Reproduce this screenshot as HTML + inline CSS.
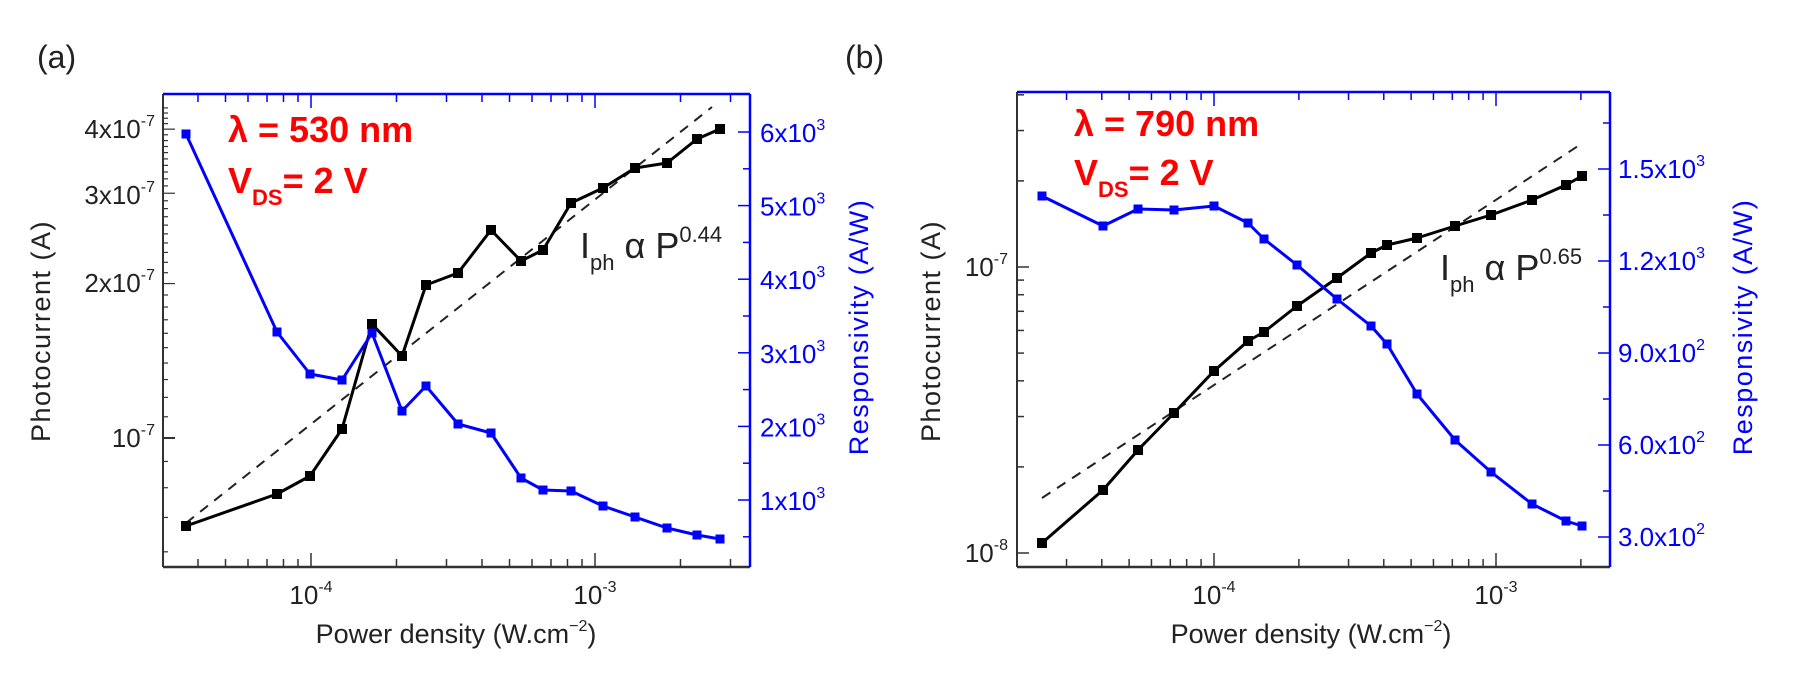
<!DOCTYPE html>
<html><head><meta charset="utf-8"><style>
html,body{margin:0;padding:0;background:#fff;}
svg{display:block;font-family:"Liberation Sans",Arial,sans-serif;}
</style></head><body>
<svg id="s" width="1795" height="675" viewBox="0 0 1795 675" xmlns="http://www.w3.org/2000/svg"></svg>
<script>
const S=document.getElementById('s');let h='';
function L(x1,y1,x2,y2,c,w,d){h+=`<line x1="${x1}" y1="${y1}" x2="${x2}" y2="${y2}" stroke="${c}" stroke-width="${w}"${d?` stroke-dasharray="${d}"`:''}/>`;}
function T(x,y,t,o){h+=`<text x="${x}" y="${y}" ${o||''}>${t}</text>`;}
function poly(pts,c,w,m){h+=`<polyline points="${pts.map(p=>p.join(',')).join(' ')}" fill="none" stroke="${c}" stroke-width="${w}" stroke-linejoin="round"/>`;pts.forEach(p=>{h+=`<rect x="${p[0]-m/2}" y="${p[1]-m/2}" width="${m}" height="${m}" fill="${c}"/>`;});}
const G='#333',B='#0000ff';
function panel(P){
 const {l,r,t,b,x4,dec}=P;
 // frame
 L(l,t,l,b,G,2);L(l,b,r,b,G,2.5);L(l,t,r,t,B,2.5);L(r,t,r,b,B,2.5);
 // x ticks
 for(let e=-5;e<=-2;e++)for(let k=1;k<10;k++){const x=x4+(e+4+Math.log10(k))*dec;if(x<=l+2||x>=r-2)continue;const len=k==1?14:8;L(x,b,x,b-len,G,1.5);L(x,t,x,t+len,B,1.5);}
 h+=P.extra;
}
// Panel a
panel({l:163,r:750,t:94,b:567,x4:311,dec:284,extra:''});
// left ticks a: 1e-7 at 438, decade 513
for(let v=0.6;v<=4.45;v+=0.1){const y=438-Math.log10(v)*513;if(y<96||y>565)continue;const maj=Math.abs(v-Math.round(v))<0.01;L(163,y,163+(maj?12:5),y,G,1.2);}
// right ticks a
for(let i=0;i<12;i++){const y=132+i*36.8;L(750,y,750-(i%2==0?12:7),y,B,1.5);}
L(163,438,175,438,G,2);
// Panel b
panel({l:1017,r:1610,t:92,b:567,x4:1214,dec:282,extra:''});
for(let e=-8;e<=-7;e++)for(let k=1;k<10;k++){const y=267-(e+7+Math.log10(k))*286;if(y<94||y>565)continue;L(1017,y,1017+(k==1?12:7),y,G,1.5);}
for(let i=0;i<11;i++){const y=537-i*46;if(y<94)continue;L(1610,y,1610-(i%2==0?12:7),y,B,1.5);}
// data a
L(186,523,712,107,'#222',2,'10 8');
poly([[186,526],[277,494],[310,476],[342,429],[372,324],[402,356],[426,285],[458,273],[491,230],[521,261],[543,250],[571,203],[603,188],[635,168],[667,163],[697,139],[720,129]],'#000',3,10);
poly([[186,134],[277,332],[310,374],[342,380],[372,333],[402,411],[426,386],[458,424],[491,433],[521,478],[543,490],[571,491],[603,506],[635,517],[667,528],[697,535],[720,539]],B,3,9);
// data b
L(1042,498,1578,146,'#222',2,'10 8');
poly([[1042,543],[1103,490],[1138,450],[1174,413],[1214,371],[1248,341],[1264,332],[1297,306],[1337,278],[1371,253],[1387,245],[1417,238],[1455,226],[1491,215],[1532,200],[1566,185],[1582,176]],'#000',3,10);
poly([[1042,196],[1103,226],[1138,209],[1174,210],[1214,206],[1248,223],[1264,239],[1297,265],[1337,299],[1371,326],[1387,344],[1417,394],[1455,440],[1491,472],[1532,504],[1566,521],[1582,526]],B,3,9);
// labels
const lab='font-size="26" fill="#222"';
T(37,68,'(a)','font-size="32" fill="#222"');T(845,68,'(b)','font-size="32" fill="#222"');
const sup=(b,e)=>`${b}<tspan font-size="16" dy="-12">${e}</tspan>`;
[['4x10','-7',138],['3x10','-7',204],['2x10','-7',292],['10','-7',447]].forEach(a=>T(155,a[2],sup(a[0],a[1]),lab+' text-anchor="end"'));
[['10','-7',276],['10','-8',562]].forEach(a=>T(1008,a[2],sup(a[0],a[1]),lab+' text-anchor="end"'));
const rl='font-size="26" fill="#0000ff"';
for(let i=0;i<6;i++)T(760,142+i*73.6,sup((6-i)+'x10','3'),rl);
['1.5','1.2','9.0','6.0','3.0'].forEach((v,i)=>T(1618,178+i*92,sup(v+'x10',i<2?'3':'2'),rl));
// x labels
[[311,'-4'],[595,'-3'],[1214,'-4'],[1496,'-3']].forEach(a=>T(a[0],604,sup('10',a[1]),lab+' text-anchor="middle"'));
[456,1311].forEach(x=>T(x,643,'Power density (W.cm<tspan font-size="16" dy="-12">−2</tspan><tspan dy="12">)</tspan>','font-size="27" fill="#222" text-anchor="middle"'));
// axis titles
T(0,0,'Photocurrent (A)','font-size="27" fill="#222" text-anchor="middle" letter-spacing="1.5" transform="translate(50,331) rotate(-90)"');
T(0,0,'Photocurrent (A)','font-size="27" fill="#222" text-anchor="middle" letter-spacing="1.5" transform="translate(940,331) rotate(-90)"');
T(0,0,'Responsivity (A/W)','font-size="27" fill="#0000ff" text-anchor="middle" letter-spacing="1.5" transform="translate(868,327) rotate(-90)"');
T(0,0,'Responsivity (A/W)','font-size="27" fill="#0000ff" text-anchor="middle" letter-spacing="1.5" transform="translate(1752,327) rotate(-90)"');
// red annotations
const red='font-size="36" font-weight="bold" fill="#ff0000"';
T(228,142,'λ = 530 nm',red);T(228,193,'V<tspan font-size="22" dy="12">DS</tspan><tspan dy="-12">= 2 V</tspan>',red);
T(1074,136,'λ = 790 nm',red);T(1074,185,'V<tspan font-size="22" dy="12">DS</tspan><tspan dy="-12">= 2 V</tspan>',red);
const ann='font-size="36" fill="#222"';
T(580,258,'I<tspan font-size="22" dy="12">ph</tspan><tspan dy="-12"> α P</tspan><tspan font-size="22" dy="-16">0.44</tspan>',ann);
T(1440,280,'I<tspan font-size="22" dy="12">ph</tspan><tspan dy="-12"> α P</tspan><tspan font-size="22" dy="-16">0.65</tspan>',ann);
S.innerHTML=h;
</script>
</body></html>
